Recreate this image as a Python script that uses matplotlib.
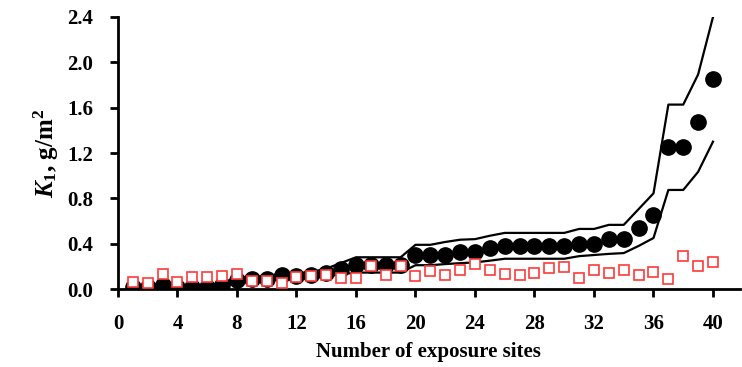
import numpy as np
import matplotlib
matplotlib.use("Agg")
import matplotlib.pyplot as plt

# exposure sites, sorted by measured K1
sites = np.arange(1, 41)

k1_measured = [0.015, 0.015, 0.035, 0.015, 0.02, 0.02, 0.035, 0.08, 0.09, 0.09,
               0.12, 0.115, 0.12, 0.145, 0.18, 0.21, 0.21, 0.21, 0.21, 0.30,
               0.30, 0.30, 0.33, 0.33, 0.36, 0.38, 0.38, 0.38, 0.38, 0.38,
               0.40, 0.40, 0.44, 0.44, 0.54, 0.65, 1.25, 1.25, 1.47, 1.85]

k1_other = [0.06, 0.05, 0.13, 0.065, 0.105, 0.105, 0.115, 0.13, 0.07, 0.07,
            0.05, 0.11, 0.115, 0.12, 0.10, 0.098, 0.204, 0.12, 0.20, 0.115,
            0.16, 0.12, 0.166, 0.222, 0.17, 0.13, 0.12, 0.14, 0.187, 0.195,
            0.097, 0.169, 0.14, 0.169, 0.122, 0.151, 0.086, 0.293, 0.204, 0.237]

upper = [0.03, 0.03, 0.05, 0.03, 0.035, 0.035, 0.055, 0.10, 0.11, 0.11,
         0.14, 0.14, 0.15, 0.18, 0.23, 0.28, 0.28, 0.28, 0.28, 0.39,
         0.39, 0.415, 0.435, 0.44, 0.47, 0.495, 0.495, 0.495, 0.495, 0.495,
         0.53, 0.53, 0.566, 0.566, 0.705, 0.844, 1.627, 1.627, 1.893, 2.40]

lower = [0.005, 0.005, 0.02, 0.005, 0.01, 0.01, 0.02, 0.06, 0.065, 0.065,
         0.09, 0.09, 0.095, 0.11, 0.13, 0.145, 0.145, 0.145, 0.145, 0.21,
         0.21, 0.22, 0.228, 0.235, 0.25, 0.267, 0.267, 0.267, 0.267, 0.267,
         0.29, 0.30, 0.31, 0.317, 0.38, 0.45, 0.874, 0.874, 1.034, 1.30]

xticks = list(range(0, 41, 4))
yticks = [0.0, 0.4, 0.8, 1.2, 1.6, 2.0, 2.4]

plt.rcParams['font.family'] = 'Liberation Serif'
plt.rcParams['mathtext.fontset'] = 'custom'
plt.rcParams['mathtext.rm'] = 'Liberation Serif:bold'
plt.rcParams['mathtext.it'] = 'Liberation Serif:italic:bold'

fig = plt.figure(figsize=(7.42, 3.67), dpi=100)
ax = fig.add_axes([0.159, 0.2125, 0.838, 0.7412])

ax.plot(sites, upper, color='black', lw=1.6, zorder=2)
ax.plot(sites, lower, color='black', lw=1.6, zorder=2)
ax.plot(sites, k1_measured, 'o', color='black', ms=11, zorder=3)
ax.plot(sites, k1_other, 's', mfc='white', mec='#ff3a3a', mew=1.2, ms=7.8, zorder=4)

ax.set_xlim(0, 41.8)
ax.set_ylim(0, 2.4)
ax.set_xticks(xticks)
ax.set_yticks(yticks)
ax.set_yticklabels([f"{v:.1f}" for v in yticks])

for side in ('top', 'right'):
    ax.spines[side].set_visible(False)
for side in ('left', 'bottom'):
    ax.spines[side].set_linewidth(2)
ax.tick_params(direction='out', width=2, length=6, labelsize=15, pad=12)
for lbl in ax.get_xticklabels() + ax.get_yticklabels():
    lbl.set_fontweight('bold')

ax.set_xlabel('Number of exposure sites', fontsize=15, fontweight='bold', labelpad=6)
ax.set_ylabel(r'$K_1$, g/m$^2$', fontsize=18, fontweight='bold', labelpad=4)

fig.savefig('out.png', dpi=100)
